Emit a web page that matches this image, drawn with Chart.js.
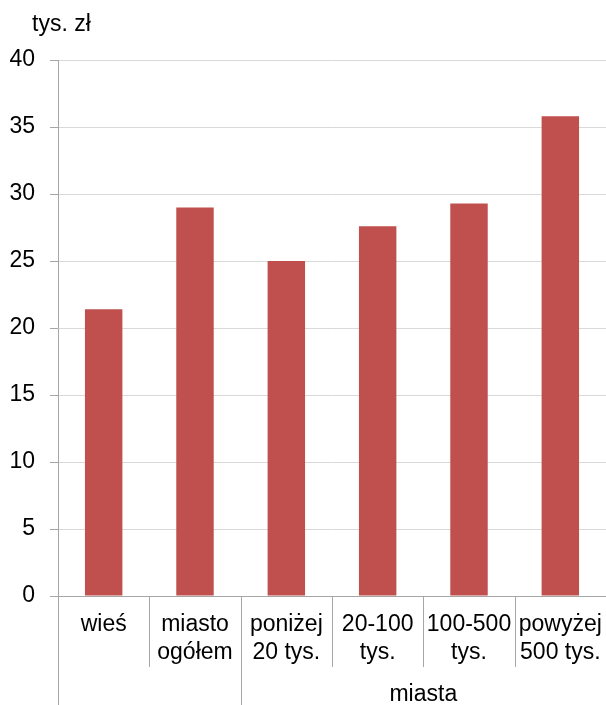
<!DOCTYPE html>
<html>
<head>
<meta charset="utf-8">
<script src="https://cdn.jsdelivr.net/npm/chart.js@4/dist/chart.umd.min.js"></script>
<style>
  html, body { margin: 0; padding: 0; background: #fff; }
  #wrap { width: 606px; height: 705px; }
</style>
</head>
<body>
<div id="wrap"><canvas id="BarChart" width="606" height="705"></canvas></div>
<script>
// data
const categories = [['wieś'], ['miasto', 'ogółem'], ['poniżej', '20 tys.'], ['20-100', 'tys.'], ['100-500', 'tys.'], ['powyżej', '500 tys.']];
const values = [21.4, 29.0, 25.0, 27.6, 29.3, 35.8];
const unitLabel = 'tys. zł';
const groupLabel = 'miasta';
const groupFrom = 2; // first category under "miasta"
const yMin = 0, yMax = 40, yStep = 5;

const FONT = "'Liberation Sans', Arial, sans-serif";

// separators under the x axis + group label + unit
const extras = {
  id: 'extras',
  afterDraw(chart) {
    const c = chart.ctx;
    const x = chart.scales.x;
    const area = chart.chartArea;
    const H = chart.height;
    const half = (x.getPixelForValue(1) - x.getPixelForValue(0)) / 2;
    c.save();
    c.strokeStyle = '#a6a6a6';
    c.lineWidth = 1;
    for (let i = 0; i < categories.length; i++) {
      const bx = Math.round(x.getPixelForValue(i) - half) + 0.5;
      const long = (i === 0 || i === groupFrom);
      c.beginPath();
      c.moveTo(bx, area.bottom);
      c.lineTo(bx, long ? H : area.bottom + 71);
      c.stroke();
    }
    // group label
    const gx = (x.getPixelForValue(groupFrom) - half + area.right) / 2;
    c.fillStyle = '#000';
    c.font = '23px ' + FONT;
    c.textAlign = 'center';
    c.textBaseline = 'middle';
    c.fillText(groupLabel, gx, area.bottom + 99);
    // unit
    c.textAlign = 'left';
    c.fillText(unitLabel, 32, 25);
    c.restore();
  }
};

const ctx = document.getElementById('BarChart');

new Chart(ctx, {
  type: 'bar',
  data: {
    labels: categories,
    datasets: [{
      data: values,
      backgroundColor: '#c0504d',
      borderWidth: 0,
      categoryPercentage: 1,
      barPercentage: 0.41
    }]
  },
  options: {
    responsive: false,
    animation: false,
    devicePixelRatio: 1,
    layout: { padding: { top: 60, left: 0, right: 0, bottom: 0 } },
    plugins: {
      legend: { display: false },
      tooltip: { enabled: false }
    },
    scales: {
      x: {
        grid: { display: false, drawTicks: false },
        border: { display: true, color: '#a6a6a6', width: 1 },
        ticks: {
          color: '#000',
          font: { family: FONT, size: 23, lineHeight: 1.2 },
          padding: 15,
          maxRotation: 0,
          autoSkip: false
        },
        afterFit(scale) {
          scale.height = 109;
          scale.paddingLeft = 0;
          scale.paddingRight = 0;
        }
      },
      y: {
        min: yMin,
        max: yMax,
        grid: { color: '#d9d9d9', tickColor: '#a6a6a6', tickLength: 8, lineWidth: 1 },
        border: { display: true, color: '#a6a6a6', width: 1 },
        ticks: {
          stepSize: yStep,
          color: '#000',
          font: { family: FONT, size: 23 },
          padding: 15
        },
        afterFit(scale) { scale.width = 58; }
      }
    }
  },
  plugins: [extras]
});
</script>
</body>
</html>
